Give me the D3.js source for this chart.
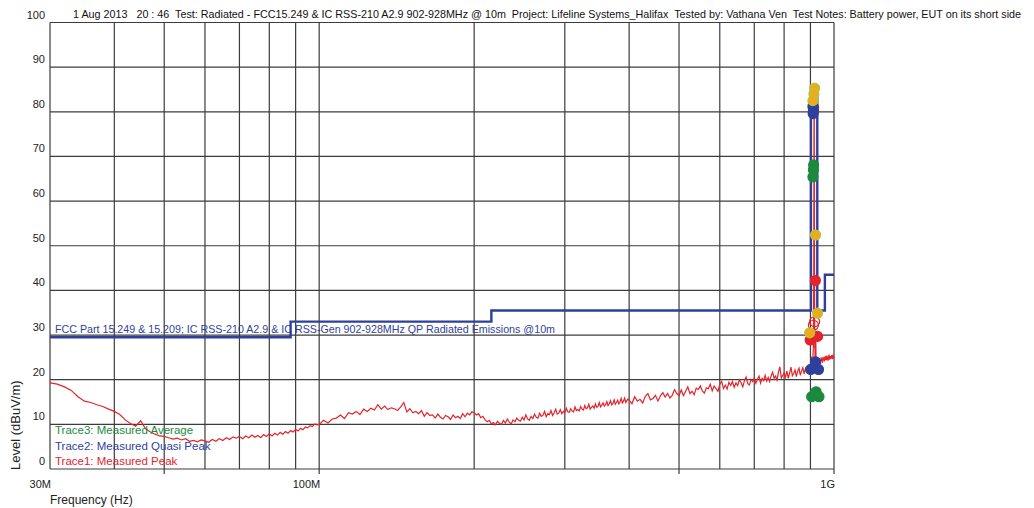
<!DOCTYPE html>
<html>
<head>
<meta charset="utf-8">
<script src="https://cdn.jsdelivr.net/npm/d3@7"></script>
<style>
  body { margin: 0; background: #fff; }
  text { font-family: "Liberation Sans", Arial, sans-serif; white-space: pre; }
  text.title { font-family: "Liberation Sans Narrow", "Liberation Sans", Arial, sans-serif; }
</style>
</head>
<body>
<div id="visualization"></div>
<script>
// header / labels
const titleText = "1 Aug 2013   20 : 46  Test: Radiated - FCC15.249 & IC RSS-210 A2.9 902-928MHz @ 10m  Project: Lifeline Systems_Halifax  Tested by: Vathana Ven  Test Notes: Battery power, EUT on its short side"
const limitName = "FCC Part 15.249 & 15.209; IC RSS-210 A2.9 & IC RSS-Gen 902-928MHz QP Radiated Emissions @10m"
const legendNames = ["Trace3: Measured Average", "Trace2: Measured Quasi Peak", "Trace1: Measured Peak"]

// axes
const yTicks = [0, 10, 20, 30, 40, 50, 60, 70, 80, 90, 100]
const xGrid = [40, 50, 60, 70, 80, 90, 100, 200, 300, 400, 500, 600, 700, 800, 900, 1000]
const xLabelValues = [30, 100, 1000]
const xLabelTexts = ["30M", "100M", "1G"]
const xMajorTicks = [50, 100, 500, 1000]

// limit line (MHz, dBuV/m)
const limitFreq  = [30, 88, 88, 216, 216, 902, 902, 928, 928, 960, 960, 1000]
const limitLevel = [29.5, 29.5, 33, 33, 35.5, 35.5, 83.5, 83.5, 35.5, 35.5, 43.5, 43.5]

// Trace1 peak sweep
const peak30to100 = [ // 1 MHz steps from 30 MHz
  19.3, 19.0, 18.4, 17.6, 16.2, 15.2, 14.9, 14.4, 14.0, 13.4,
  12.9, 12.2, 11.0, 10.2, 9.6, 10.8, 9.0, 8.3, 7.8, 7.4,
  7.3, 7.0, 6.7, 6.9, 6.5, 6.8, 6.2, 6.4, 6.1, 6.5,
  6.3, 6.0, 6.6, 6.2, 6.8, 6.4, 7.0, 6.6, 7.2, 6.9,
  7.3, 6.8, 7.4, 7.0, 7.6, 7.1, 7.5, 7.0, 7.7, 7.3,
  7.9, 7.4, 8.0, 7.6, 8.2, 7.8, 8.4, 8.0, 8.6, 8.3,
  8.9, 8.5, 9.1, 8.8, 9.4, 9.2, 9.7, 9.5, 10.1, 9.9]
const peak100to200 = [ // 2 MHz steps from 100 MHz
  10.0, 10.9, 10.3, 11.2, 11.4, 12.1, 11.3, 12.6, 12.3, 12.9,
  12.2, 13.4, 12.9, 13.6, 13.2, 14.4, 13.4, 14.1, 13.3, 13.7,
  13.5, 13.1, 13.9, 14.9, 12.8, 13.5, 12.6, 12.9, 12.4, 13.1,
  11.8, 12.6, 12.0, 12.1, 11.4, 12.3, 11.6, 11.2, 12.0, 11.7,
  11.1, 12.1, 11.5, 11.8, 11.3, 12.4, 11.7, 12.5, 12.1, 12.8]
const peak200to400 = [ // 2 MHz steps from 200 MHz
  12.6, 12.1, 12.4, 11.5, 11.8, 11.0, 10.6, 10.9, 10.1, 10.4,
  9.9, 10.7, 10.2, 10.0, 10.9, 10.3, 11.2, 10.5, 10.1, 11.0,
  10.6, 11.4, 10.9, 10.7, 11.6, 11.0, 12.1, 11.2, 10.9, 11.8,
  11.3, 12.3, 11.6, 11.4, 12.5, 11.8, 12.0, 12.9, 11.7, 12.4,
  12.2, 13.1, 12.0, 12.6, 13.4, 12.3, 12.5, 13.3, 12.4, 12.9,
  12.6, 13.6, 12.8, 12.7, 13.5, 13.0, 12.8, 13.9, 13.1, 13.3,
  13.0, 14.0, 13.4, 13.2, 14.2, 13.5, 13.7, 14.5, 13.4, 13.8,
  14.1, 13.6, 14.6, 13.8, 14.0, 14.9, 13.9, 14.3, 14.8, 14.1,
  14.4, 15.1, 14.2, 14.6, 15.3, 14.4, 14.7, 15.5, 14.5, 14.9,
  15.4, 14.6, 15.0, 15.8, 14.8, 15.2, 15.9, 14.9, 15.3, 15.7]
const peak400to900 = [ // 5 MHz steps from 400 MHz
  15.4, 14.6, 16.2, 15.2, 15.6, 14.8, 16.3, 16.9, 15.5, 15.8,
  16.5, 15.2, 16.4, 17.1, 16.1, 16.9, 15.9, 16.5, 17.8, 16.9,
  16.4, 17.7, 16.4, 17.4, 18.4, 16.9, 17.4, 16.6, 18.1, 17.8,
  18.6, 17.5, 17.0, 18.2, 18.0, 19.0, 17.5, 18.6, 18.0, 17.4,
  19.0, 19.6, 18.0, 18.8, 17.9, 19.4, 18.7, 19.6, 18.3, 19.3,
  18.7, 20.0, 19.3, 18.4, 19.8, 20.6, 19.1, 18.8, 20.1, 19.6,
  20.4, 19.2, 20.1, 20.8, 19.2, 20.3, 19.8, 21.0, 19.7, 20.5,
  19.6, 20.9, 21.7, 20.3, 20.8, 19.9, 21.7, 22.9, 20.4, 21.0,
  21.5, 20.5, 21.9, 20.3, 21.5, 22.8, 20.9, 21.4, 22.2, 20.7,
  21.9, 22.6, 21.0, 21.9, 22.7, 21.3, 22.5, 21.8, 23.2, 21.9]
const peak900to1000 = [
  [900, 22.6], [902, 23.8], [904, 25.2], [906, 24.0], [908, 23.0], [910, 24.5],
  [912, 27.5], [913.5, 45], [914.5, 80.5], [915.5, 80.5], [916.5, 42], [917.5, 27],
  [918, 30], [919, 24.2], [920, 29], [921, 24], [922, 28.5], [923, 23.6], [925, 24.4],
  [928, 23.2], [930, 24.6], [932, 24.1], [934, 23.4], [936, 24.7], [938, 23.9],
  [940, 24.5], [942, 23.6], [944, 25.0], [946, 24.2], [948, 24.8], [950, 23.8],
  [952, 25.1], [954, 24.3], [956, 24.9], [958, 24.1], [960, 25.2], [963, 24.4],
  [966, 25.4], [969, 24.3], [972, 25.0], [975, 24.6], [978, 25.6], [981, 24.5],
  [984, 25.3], [987, 24.7], [990, 25.5], [993, 24.6], [996, 25.4], [1000, 24.9]]

// markers (MHz, dBuV/m)
const peakMarkers = [[913, 81], [920, 42.2], [899, 28.9], [929, 29.7]]
const peakMarkersOpen = [[917, 33.0], [912, 32.2]]
const avgMarkers = [[913, 68.1], [912, 67.0], [910, 65.4], [905, 16.2], [923, 17.3], [935, 16.2]]
const qpMarkers = [[910, 81.2], [912, 80.2], [911, 79.6], [901, 22.3], [921, 24.0], [933, 22.3]]
const extraMarkers = [[917, 85.3], [914, 84.0], [910, 82.5], [921, 52.4], [929, 34.9], [897, 30.5]]

const red = "#e4232b", blue = "#2f3f9c", green = "#1b8a3e", gridColor = "#3c3c3c"

svg = d3.select('#visualization').append('svg')
  .attr('width', 1034)
  .attr('height', 508)

x = d3.scaleLog().domain([30, 1000]).range([50, 834])
y = d3.scaleLinear().domain([0, 100]).range([469, 22.5])

// grid
svg.selectAll('line.h')
  .data(yTicks)
  .join('line')
    .attr('class', 'h')
    .attr('x1', x(30)).attr('x2', x(1000))
    .attr('y1', d => y(d)).attr('y2', d => y(d))
    .attr('stroke', gridColor).attr('stroke-width', 1.2)

svg.selectAll('line.v')
  .data([30].concat(xGrid))
  .join('line')
    .attr('class', 'v')
    .attr('x1', d => x(d)).attr('x2', d => x(d))
    .attr('y1', y(100)).attr('y2', y(0))
    .attr('stroke', gridColor).attr('stroke-width', 1.2)

svg.selectAll('line.tick')
  .data(xMajorTicks)
  .join('line')
    .attr('class', 'tick')
    .attr('x1', d => x(d)).attr('x2', d => x(d))
    .attr('y1', y(0)).attr('y2', y(0) + 5)
    .attr('stroke', gridColor).attr('stroke-width', 1.2)

// tick labels
svg.selectAll('text.ylab')
  .data(yTicks)
  .join('text')
    .attr('class', 'ylab')
    .attr('x', 45)
    .attr('y', d => y(d) - 4)
    .attr('text-anchor', 'end')
    .attr('font-size', 11)
    .attr('fill', '#222')
    .text(d => d)

svg.selectAll('text.xlab')
  .data(xLabelValues)
  .join('text')
    .attr('class', 'xlab')
    .attr('x', d => x(d) + 1)
    .attr('y', 488)
    .attr('text-anchor', 'end')
    .attr('font-size', 11)
    .attr('fill', '#222')
    .text((d, i) => xLabelTexts[i])

svg.append('text')
  .attr('x', 50).attr('y', 504)
  .attr('font-size', 12).attr('fill', '#222')
  .text('Frequency (Hz)')

svg.append('text')
  .attr('transform', 'translate(20,470) rotate(-90)')
  .attr('font-size', 13).attr('fill', '#222')
  .text('Level (dBuV/m)')

svg.append('text')
  .attr('class', 'title')
  .attr('x', 73).attr('y', 17.5)
  .attr('font-size', 10.5).attr('fill', '#111')
  .attr('textLength', 948).attr('lengthAdjust', 'spacingAndGlyphs')
  .text(titleText)

// peak trace
let peakTrace = []
  .concat(peak30to100.map((v, i) => [30 + i, v]))
  .concat(peak100to200.map((v, i) => [100 + 2 * i, v]))
  .concat(peak200to400.map((v, i) => [200 + 2 * i, v]))
  .concat(peak400to900.map((v, i) => [400 + 5 * i, v]))
  .concat(peak900to1000)

let line = d3.line().x(d => x(d[0])).y(d => y(d[1]))

svg.append('path')
  .attr('d', line(peakTrace))
  .attr('fill', 'none')
  .attr('stroke', red)
  .attr('stroke-width', 1.2)

// limit
svg.append('path')
  .attr('d', line(limitFreq.map((f, i) => [f, limitLevel[i]])))
  .attr('fill', 'none')
  .attr('stroke', blue)
  .attr('stroke-width', 2.4)

svg.append('text')
  .attr('x', 55).attr('y', 333)
  .attr('font-size', 11).attr('fill', blue)
  .attr('textLength', 500).attr('lengthAdjust', 'spacingAndGlyphs')
  .text(limitName)

// legend
svg.selectAll('text.legend')
  .data(legendNames)
  .join('text')
    .attr('class', 'legend')
    .attr('x', 55)
    .attr('y', (d, i) => 434 + i * 15.5)
    .attr('font-size', 11.5)
    .attr('fill', (d, i) => [green, blue, red][i])
    .text(d => d)

// markers
function drawMarkers(data, fill, stroke, cls) {
  svg.selectAll('circle.' + cls)
    .data(data)
    .join('circle')
      .attr('class', cls)
      .attr('cx', d => x(d[0]))
      .attr('cy', d => y(d[1]))
      .attr('r', 5)
      .attr('fill', fill)
      .attr('stroke', stroke)
      .attr('stroke-width', 1.2)
}

drawMarkers(peakMarkersOpen, 'none', red, 'pko')
drawMarkers(peakMarkers, red, red, 'pk')
drawMarkers(avgMarkers, green, green, 'av')
drawMarkers(qpMarkers, blue, blue, 'qp')
drawMarkers(extraMarkers, '#f2a81d', '#a9cc3c', 'ex')
</script>
</body>
</html>
